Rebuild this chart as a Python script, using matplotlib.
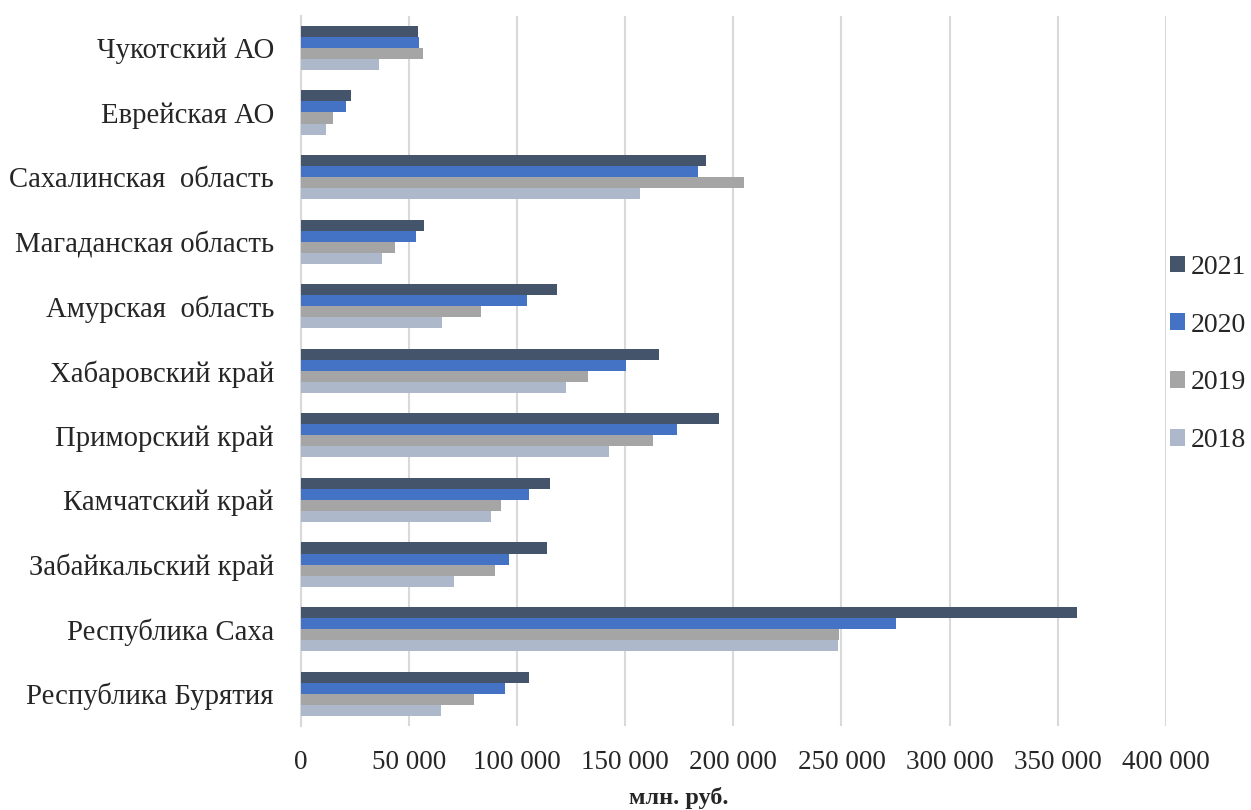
import numpy as np
import matplotlib
matplotlib.use('Agg')
import matplotlib.pyplot as plt
from matplotlib.ticker import FuncFormatter
from matplotlib.patches import Patch

# Data (млн. руб.), regions listed bottom to top as on the chart
regions = ['Республика Бурятия', 'Республика Саха', 'Забайкальский край',
           'Камчатский край', 'Приморский край', 'Хабаровский край',
           'Амурская  область', 'Магаданская область', 'Сахалинская  область',
           'Еврейская АО', 'Чукотский АО']
years = ['2021', '2020', '2019', '2018']
v2021 = [105400, 358800, 113900, 115100, 193500, 165400, 118400, 57100, 187500, 23200, 53900]
v2020 = [94200, 275200, 96400, 105400, 173900, 150500, 104600, 53300, 183600, 20700, 54600]
v2019 = [79900, 249000, 89900, 92300, 162800, 132700, 83200, 43400, 205100, 14600, 56500]
v2018 = [64900, 248300, 71000, 87700, 142400, 122400, 65000, 37500, 157000, 11400, 36300]
colors = ['#44546A', '#4472C4', '#A5A5A5', '#ADB9CA']

plt.rcParams['font.family'] = ['Liberation Serif', 'DejaVu Serif']

fig = plt.figure(figsize=(12.51, 8.10), dpi=100)
ax = fig.add_axes([301 / 1251, 1 - 726 / 810, 864.7 / 1251, 710.4 / 810])

y = np.arange(len(regions))
h = 0.171
series = [v2021, v2020, v2019, v2018]
offsets = [1.5 * h, 0.5 * h, -0.5 * h, -1.5 * h]
for vals, off, col, yr in zip(series, offsets, colors, years):
    ax.barh(y + off, vals, height=h, color=col, linewidth=0, label=yr, zorder=3)

ax.set_xlim(0, 400000)
ax.set_ylim(-0.5, len(regions) - 0.5)
ax.set_xticks(np.arange(0, 400001, 50000))
ax.xaxis.set_major_formatter(FuncFormatter(lambda v, p: f'{int(v):,}'.replace(',', ' ')))
ax.set_yticks(y)
ax.set_yticklabels(regions)

ax.grid(axis='x', color='#D9D9D9', linewidth=1.5, zorder=0)
ax.grid(axis='y', visible=False)
for s in ['top', 'right', 'bottom']:
    ax.spines[s].set_visible(False)
ax.spines['left'].set_color('#D9D9D9')
ax.spines['left'].set_linewidth(1.5)
ax.tick_params(axis='both', length=0, colors='#262626')
ax.tick_params(axis='y', pad=19.5, labelsize=20.7)
ax.tick_params(axis='x', pad=17.5, labelsize=19.5)

fig.text(679 / 1251, 1 - 798 / 810, 'млн. руб.', ha='center', va='center',
         fontsize=17.5, fontweight='bold', color='#262626')

handles = [Patch(facecolor=c, edgecolor='none') for c in colors]
leg = fig.legend(handles, years, loc='center left', bbox_to_anchor=(1170 / 1251, 1 - 354 / 810),
                 frameon=False, fontsize=20, handlelength=0.55, handleheight=0.55,
                 handletextpad=0.2, labelspacing=1.18, borderpad=0, borderaxespad=0)
for t in leg.get_texts():
    t.set_color('#262626')

fig.savefig('out.png', dpi=100, facecolor='white')
